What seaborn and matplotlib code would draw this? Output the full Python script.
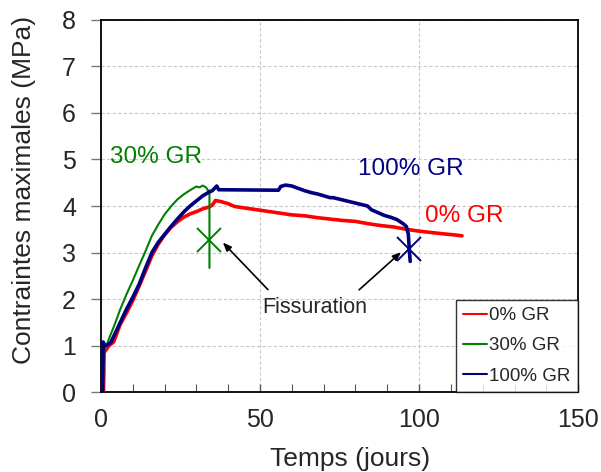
import matplotlib
matplotlib.use("Agg")
import matplotlib.pyplot as plt
from matplotlib.ticker import MultipleLocator
import seaborn as sns
import pandas as pd

# --- Maximal stress vs. time, three recycled-aggregate ratios ---
t_0gr = [0.8, 1.0, 1.5, 2.5, 4, 6, 8, 10, 12, 14, 16, 18, 20, 22, 24, 26, 28, 30,
         32, 34, 35, 36, 38, 40, 42, 45, 48, 52, 56, 60, 64, 68, 72, 76, 80, 84,
         88, 92, 96, 100, 104, 108, 111, 113.5]
s_0gr = [0.0, 0.85, 0.9, 1.0, 1.08, 1.45, 1.7, 1.97, 2.28, 2.6, 2.93, 3.18, 3.38,
         3.54, 3.66, 3.76, 3.83, 3.88, 3.94, 3.98, 4.02, 4.12, 4.09, 4.05, 3.99,
         3.96, 3.93, 3.89, 3.85, 3.81, 3.79, 3.75, 3.72, 3.69, 3.67, 3.62, 3.58,
         3.55, 3.5, 3.46, 3.43, 3.4, 3.38, 3.36]

t_30gr = [0.6, 0.8, 1.5, 2.8, 4, 6, 8, 10, 12, 14, 16, 18, 20, 22, 24, 26, 28, 30,
          31, 32, 33, 33.8, 34.1, 34.1]
s_30gr = [0.0, 0.9, 0.95, 1.2, 1.4, 1.77, 2.1, 2.4, 2.72, 3.03, 3.36, 3.6, 3.82,
          3.99, 4.14, 4.25, 4.34, 4.42, 4.4, 4.44, 4.4, 4.32, 4.33, 2.67]

t_100gr = [0.5, 0.7, 1.2, 2, 3, 4, 6, 8, 10, 12, 14, 16, 18, 20, 22, 24, 26, 28,
           30, 32, 34, 35, 36.4, 37, 55.8, 56.5, 58, 60, 62, 64, 66, 68, 70, 72,
           73, 83.8, 85, 87, 89, 91, 93, 95, 96, 96.6, 97.2]
s_100gr = [0.0, 1.08, 1.0, 1.02, 1.06, 1.2, 1.49, 1.78, 2.04, 2.32, 2.67, 3.0,
           3.22, 3.39, 3.56, 3.72, 3.87, 4.0, 4.11, 4.22, 4.3, 4.33, 4.43, 4.35,
           4.34, 4.42, 4.45, 4.43, 4.38, 4.33, 4.29, 4.26, 4.22, 4.18, 4.18, 4.0,
           3.92, 3.86, 3.8, 3.76, 3.71, 3.62, 3.56, 3.4, 2.81]

series_labels = ["0% GR", "30% GR", "100% GR"]
series_colors = ["#FF0000", "#008000", "#000080"]

# Cracking points (time in days, stress in MPa)
crack_t = [34.0, 96.7]
crack_s = [3.27, 3.07]
crack_colors = ["#008000", "#000080"]

x_ticks = [0, 50, 100, 150]
y_ticks = [0, 1, 2, 3, 4, 5, 6, 7, 8]

sns.set_style("white")
plt.rcParams["font.family"] = ["Liberation Sans", "DejaVu Sans"]

fig = plt.figure(figsize=(6.01, 4.72), dpi=100)
ax = fig.add_axes([0.168, 0.169, 0.794, 0.789])

frames = [
    pd.DataFrame({"t": t_0gr, "s": s_0gr}),
    pd.DataFrame({"t": t_30gr, "s": s_30gr}),
    pd.DataFrame({"t": t_100gr, "s": s_100gr}),
]
widths = [2.6, 1.5, 2.6]
for df, lab, col, lw in zip(frames, series_labels, series_colors, widths):
    sns.lineplot(data=df, x="t", y="s", sort=False, estimator=None,
                 color=col, linewidth=lw, label=lab, ax=ax, zorder=3)

for ct, cs, cc in zip(crack_t, crack_s, crack_colors):
    ax.plot([ct], [cs], marker="x", markersize=17, markeredgewidth=1.4,
            color=cc, linestyle="none", zorder=4)

ax.set_xlim(0, 150)
ax.set_ylim(0, 8)
ax.set_xticks(x_ticks)
ax.set_yticks(y_ticks)
ax.xaxis.set_minor_locator(MultipleLocator(10))

grid_kw = dict(color="#C8C8C8", linestyle=(0, (3, 2)), linewidth=0.8)
ax.yaxis.grid(True, **grid_kw)
ax.xaxis.grid(True, which="major", **grid_kw)
ax.set_axisbelow(True)

for sp in ax.spines.values():
    sp.set_visible(True)
    sp.set_color("black")
    sp.set_linewidth(1.3)

ax.tick_params(axis="x", which="major", direction="in", length=6, width=1,
               color="#555555", labelsize=18, pad=11, bottom=True)
ax.tick_params(axis="x", which="minor", direction="in", length=6, width=0.8,
               color="#555555", bottom=True)
ax.tick_params(axis="y", which="major", direction="out", length=7, width=1,
               color="#777777", labelsize=18, pad=11, left=True)

ax.set_xlabel("Temps (jours)", fontsize=19)
ax.set_ylabel("Contraintes maximales (MPa)", fontsize=19)
ax.xaxis.set_label_coords(0.522, -0.148)
ax.yaxis.set_label_coords(-0.136, 0.542)

ax.text(2.8, 5.05, "30% GR", color="#008000", fontsize=17.5, va="center", ha="left")
ax.text(80.8, 4.79, "100% GR", color="#000080", fontsize=17.5, va="center", ha="left")
ax.text(101.9, 3.78, "0% GR", color="#FF0000", fontsize=17.5, va="center", ha="left")

ax.text(67.3, 1.82, "Fissuration", fontsize=15.5, ha="center", va="center")
arrow_kw = dict(arrowstyle="-|>,head_length=0.5,head_width=0.2", color="black", lw=1.2)
ax.annotate("", xy=(37.7, 3.26), xytext=(53.1, 2.16), arrowprops=arrow_kw)
ax.annotate("", xy=(95.0, 3.05), xytext=(80.5, 2.16), arrowprops=arrow_kw)

leg = ax.legend(loc="lower right", fontsize=13.5, frameon=True, fancybox=False,
                edgecolor="black", borderaxespad=0, handlelength=1.3,
                handletextpad=0.1, labelspacing=0.7, borderpad=0.4)
leg.get_frame().set_linewidth(1.0)
for line in leg.get_lines():
    line.set_linewidth(1.5)

fig.savefig("out.png", dpi=100)
